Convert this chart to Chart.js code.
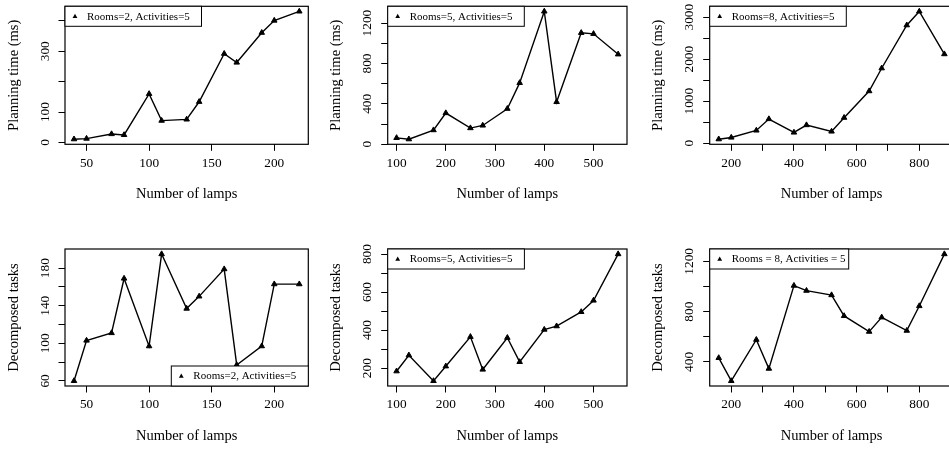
<!DOCTYPE html>
<html>
<head>
<meta charset="utf-8">
<script src="https://cdn.jsdelivr.net/npm/chart.js@4.4.1/dist/chart.umd.min.js"></script>
<style>
  html, body { margin: 0; padding: 0; background: #fff; }
  body { width: 949px; height: 450px; position: relative; overflow: hidden; }
  canvas { position: absolute; }
</style>
</head>
<body>
<canvas id="p1"></canvas>
<canvas id="p2"></canvas>
<canvas id="p3"></canvas>
<canvas id="p4"></canvas>
<canvas id="p5"></canvas>
<canvas id="p6"></canvas>
<script>
// Number of lamps, one list per column
const lampsA = [40, 50, 70, 80, 100, 110, 130, 140, 160, 170, 190, 200, 220];
const lampsB = [100, 125, 175, 200, 250, 275, 325, 350, 400, 425, 475, 500, 550];
const lampsC = [160, 200, 280, 320, 400, 440, 520, 560, 640, 680, 760, 800, 880];

// Planning time (ms)
const planTime2 = [11, 13, 28, 25, 160, 72, 76, 134, 292, 263, 361, 401, 431];
const planTime5 = [63, 50, 140, 309, 160, 186, 352, 608, 1316, 419, 1104, 1094, 891];
const planTime8 = [96, 136, 304, 576, 256, 432, 280, 608, 1240, 1784, 2808, 3136, 2120];

// Decomposed tasks
const tasks2 = [60, 103, 111, 169, 97, 195, 137, 150, 179, 77, 97, 163, 163];
const tasks5 = [184, 268, 133, 210, 365, 193, 360, 233, 403, 421, 496, 556, 800];
const tasks8 = [432, 249, 577, 347, 1007, 967, 932, 766, 641, 755, 649, 845, 1258];

// Tick marks and which of them carry a label
const ticksLampsA = [50, 100, 150, 200];
const ticksLampsB = [100, 200, 300, 400, 500];
const ticksLampsC = [200, 300, 400, 500, 600, 700, 800];
const labelsLampsC = [200, 400, 600, 800];
const ticksPlan2 = [0, 100, 200, 300, 400];
const labelsPlan2 = [0, 100, 300];
const ticksPlan5 = [0, 200, 400, 600, 800, 1000, 1200];
const labelsPlan5 = [0, 400, 800, 1200];
const ticksPlan8 = [0, 500, 1000, 1500, 2000, 2500, 3000];
const labelsPlan8 = [0, 1000, 2000, 3000];
const ticksTasks2 = [60, 80, 100, 120, 140, 160, 180];
const labelsTasks2 = [60, 100, 140, 180];
const ticksTasks5 = [200, 300, 400, 500, 600, 700, 800];
const labelsTasks5 = [200, 400, 600, 800];
const ticksTasks8 = [400, 600, 800, 1000, 1200];
const labelsTasks8 = [400, 800, 1200];

const panels = [
  { id: "p1", left: 0, top: 0, width: 316, lamps: lampsA, values: planTime2,
    label: "Rooms=2, Activities=5", yTitle: "Planning time (ms)",
    xTicks: ticksLampsA, xLabels: ticksLampsA, yTicks: ticksPlan2, yLabels: labelsPlan2,
    box: [65, 6.3, 308.3, 144.3], legend: "topleft", legendW: 136.5 },
  { id: "p2", left: 316, top: 0, width: 316, lamps: lampsB, values: planTime5,
    label: "Rooms=5, Activities=5", yTitle: "Planning time (ms)",
    xTicks: ticksLampsB, xLabels: ticksLampsB, yTicks: ticksPlan5, yLabels: labelsPlan5,
    box: [71.7, 6.3, 314.3, 144.3], legend: "topleft", legendW: 136.6 },
  { id: "p3", left: 632, top: 0, width: 330, lamps: lampsC, values: planTime8,
    label: "Rooms=8, Activities=5", yTitle: "Planning time (ms)",
    xTicks: ticksLampsC, xLabels: labelsLampsC, yTicks: ticksPlan8, yLabels: labelsPlan8,
    box: [77.7, 6.3, 321.4, 144.3], legend: "topleft", legendW: 136.6 },
  { id: "p4", left: 0, top: 225, width: 316, lamps: lampsA, values: tasks2,
    label: "Rooms=2, Activities=5", yTitle: "Decomposed tasks",
    xTicks: ticksLampsA, xLabels: ticksLampsA, yTicks: ticksTasks2, yLabels: labelsTasks2,
    box: [65, 24, 308.3, 161], legend: "bottomright", legendW: 137 },
  { id: "p5", left: 316, top: 225, width: 316, lamps: lampsB, values: tasks5,
    label: "Rooms=5, Activities=5", yTitle: "Decomposed tasks",
    xTicks: ticksLampsB, xLabels: ticksLampsB, yTicks: ticksTasks5, yLabels: labelsTasks5,
    box: [71.7, 24, 314.3, 161], legend: "topleft", legendW: 136.7 },
  { id: "p6", left: 632, top: 225, width: 330, lamps: lampsC, values: tasks8,
    label: "Rooms = 8, Activities = 5", yTitle: "Decomposed tasks",
    xTicks: ticksLampsC, xLabels: labelsLampsC, yTicks: ticksTasks8, yLabels: labelsTasks8,
    box: [77.7, 24, 321.4, 161], legend: "topleft", legendW: 139 },
];

const PANEL_H = 225;
const TICK_LEN = 6.5;
const FAMILY = "'Liberation Serif', 'Times New Roman', serif";
const tickFont = { family: FAMILY, size: 13.3 };
const titleFont = { family: FAMILY, size: 14.5 };

// R style axis range: data range widened by 4% each side
const extend = (arr) => {
  const lo = Math.min(...arr);
  const hi = Math.max(...arr);
  const d = (hi - lo) * 0.04;
  return [lo - d, hi + d];
};

const measureCtx = document.createElement("canvas").getContext("2d");
const widestLabel = (labels) => {
  measureCtx.font = "13.3px " + FAMILY;
  return Math.max(...labels.map((v) => measureCtx.measureText(String(v)).width));
};

// box round the plot plus the legend inside it
const framePlugin = (p) => ({
  id: "frame",
  afterDraw(chart) {
    const { ctx, chartArea: a } = chart;
    ctx.save();
    ctx.strokeStyle = "#000";
    ctx.lineWidth = 1.2;
    ctx.strokeRect(a.left, a.top, a.right - a.left, a.bottom - a.top);

    const w = p.legendW;
    const h = 20;
    const lx = p.legend === "topleft" ? a.left : a.right - w;
    const ly = p.legend === "topleft" ? a.top : a.bottom - h;
    ctx.fillStyle = "#fff";
    ctx.fillRect(lx, ly, w, h);
    ctx.lineWidth = 1;
    ctx.strokeRect(lx, ly, w, h);

    const mx = lx + 10;
    const my = ly + h / 2;
    ctx.fillStyle = "#000";
    ctx.beginPath();
    ctx.moveTo(mx, my - 2.6);
    ctx.lineTo(mx + 2.4, my + 1.7);
    ctx.lineTo(mx - 2.4, my + 1.7);
    ctx.closePath();
    ctx.fill();

    ctx.font = "11px " + FAMILY;
    ctx.textBaseline = "middle";
    ctx.textAlign = "left";
    ctx.fillText(chart.data.datasets[0].label, lx + 22, my + 0.5);
    ctx.restore();
  },
});

panels.forEach((p) => {
  const [bl, bt, br, bb] = p.box;
  const cnv = document.getElementById(p.id);
  cnv.width = p.width;
  cnv.height = PANEL_H;
  cnv.style.left = p.left + "px";
  cnv.style.top = p.top + "px";

  const [xMin, xMax] = extend(p.lamps);
  const [yMin, yMax] = extend(p.values);
  const yLabelPad = 19.7 - TICK_LEN - widestLabel(p.yLabels) / 2;

  new Chart(cnv, {
    type: "line",
    data: {
      datasets: [
        {
          label: p.label,
          data: p.lamps.map((x, i) => ({ x, y: p.values[i] })),
          borderColor: "#000",
          borderWidth: 1.4,
          tension: 0,
          pointStyle: "triangle",
          pointRadius: 3.2,
          pointBackgroundColor: "#000",
          pointBorderColor: "#000",
          pointBorderWidth: 1,
        },
      ],
    },
    options: {
      responsive: false,
      animation: false,
      devicePixelRatio: 1,
      layout: { padding: { left: 0, top: bt, right: p.width - br, bottom: 0 } },
      plugins: { legend: { display: false }, tooltip: { enabled: false } },
      scales: {
        x: {
          type: "linear",
          position: "bottom",
          min: xMin,
          max: xMax,
          afterBuildTicks: (s) => {
            s.ticks = p.xTicks.map((v) => ({ value: v }));
          },
          afterFit: (s) => {
            s.height = PANEL_H - bb;
            s.paddingLeft = 0;
            s.paddingRight = 0;
          },
          ticks: {
            font: tickFont,
            color: "#000",
            padding: 4.5,
            maxRotation: 0,
            autoSkip: false,
            callback: (v) => (p.xLabels.includes(v) ? String(v) : ""),
          },
          grid: {
            drawOnChartArea: false,
            drawTicks: true,
            tickLength: TICK_LEN,
            tickColor: "#000",
            tickWidth: 1,
          },
          border: { display: false },
          title: {
            display: true,
            text: "Number of lamps",
            font: titleFont,
            color: "#000",
            padding: { top: 0, bottom: PANEL_H - (bb + 50) - 8.7 },
          },
        },
        y: {
          type: "linear",
          position: "left",
          min: yMin,
          max: yMax,
          afterBuildTicks: (s) => {
            s.ticks = p.yTicks.map((v) => ({ value: v }));
          },
          afterFit: (s) => {
            s.width = bl;
            s.paddingTop = 0;
            s.paddingBottom = 0;
          },
          ticks: {
            font: tickFont,
            color: "#000",
            minRotation: 90,
            maxRotation: 90,
            crossAlign: "center",
            padding: yLabelPad,
            autoSkip: false,
            callback: (v) => (p.yLabels.includes(v) ? String(v) : ""),
          },
          grid: {
            drawOnChartArea: false,
            drawTicks: true,
            tickLength: TICK_LEN,
            tickColor: "#000",
            tickWidth: 1,
          },
          border: { display: false },
          title: {
            display: true,
            text: p.yTitle,
            font: titleFont,
            color: "#000",
            padding: { top: bl - 51.3 - 8.7, bottom: 0 },
          },
        },
      },
    },
    plugins: [framePlugin(p)],
  });
});
</script>
</body>
</html>
